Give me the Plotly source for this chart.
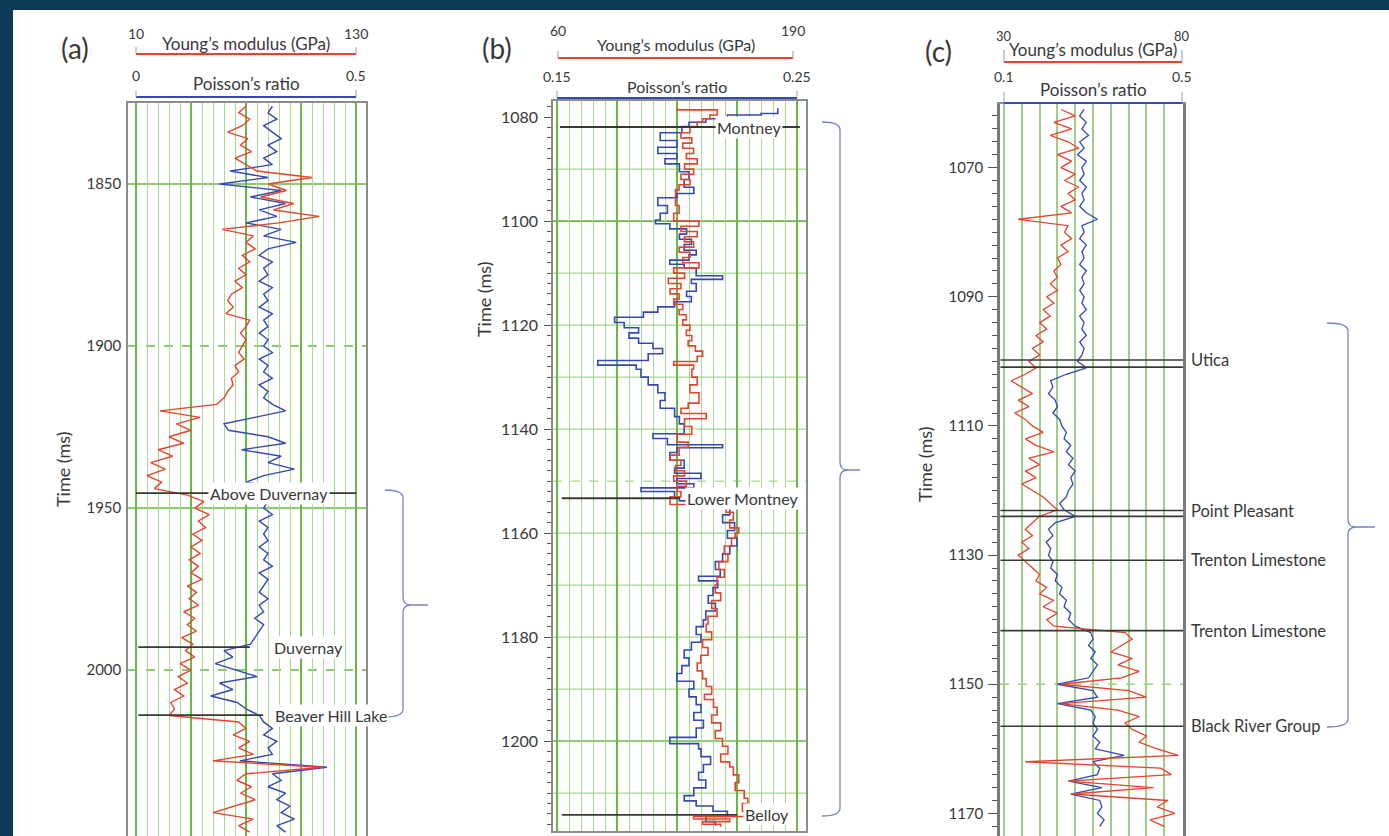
import plotly.graph_objects as go

W, H = 1389, 836

# ------------------------------------------------------------------ data
# Panel (a): log samples every 2 ms starting at 1826 ms
A_TIME_START, A_TIME_STEP = 1826, 2
A_YOUNG = [70, 66, 72, 68, 60, 71, 67, 73, 64, 70,
           76, 106, 82, 92, 78, 96, 85, 110, 88, 57,
           74, 70, 75, 68, 72, 66, 70, 64, 68, 62,
           60, 63, 59, 72, 70, 67, 70, 68, 66, 69,
           64, 66, 62, 63, 60, 58, 54, 23, 45, 32,
           40, 28, 36, 22, 30, 18, 26, 16, 24, 20,
           38, 47, 42, 50, 44, 48, 41, 46, 40, 45,
           39, 44, 40, 46, 38, 43, 39, 44, 36, 42,
           38, 43, 35, 41, 37, 42, 34, 40, 33, 38,
           31, 36, 29, 31, 28, 66, 70, 63, 72, 66,
           74, 52, 112, 70, 65, 73, 67, 75, 64, 52,
           74, 66, 72]
A_POISSON = [0.31, 0.30, 0.32, 0.29, 0.31, 0.33, 0.30, 0.32, 0.29, 0.31,
             0.214, 0.30, 0.19, 0.33, 0.26, 0.34, 0.28, 0.32, 0.25, 0.33,
             0.29, 0.364, 0.30, 0.28, 0.31, 0.29, 0.30, 0.28, 0.31, 0.29,
             0.30, 0.28, 0.31, 0.29, 0.30, 0.28, 0.30, 0.29, 0.31, 0.28,
             0.30, 0.29, 0.31, 0.28, 0.30, 0.29, 0.31, 0.34, 0.27, 0.20,
             0.21, 0.30, 0.34, 0.24, 0.33, 0.30, 0.36, 0.29, 0.25, 0.35,
             0.31, 0.30, 0.29, 0.31, 0.28, 0.30, 0.29, 0.30, 0.28, 0.30,
             0.29, 0.31, 0.28, 0.30, 0.29, 0.28, 0.30, 0.28, 0.29, 0.27,
             0.29, 0.28, 0.27, 0.26, 0.20, 0.22, 0.18, 0.23, 0.275, 0.19,
             0.22, 0.17, 0.23, 0.25, 0.28, 0.29, 0.31, 0.29, 0.32, 0.30,
             0.31, 0.236, 0.434, 0.31, 0.33, 0.30, 0.34, 0.32, 0.35, 0.33,
             0.36, 0.32, 0.34]

# Panel (b): blocky logs, (time ms, value) at every step
B_YOUNG = [(1078.3, 126), (1078.6, 148), (1079.6, 144), (1080.3, 140), (1081.0, 137), (1081.8, 133),
           (1083.0, 128), (1084.0, 134), (1085.0, 129), (1086.0, 135), (1087.0, 131), (1088.0, 137),
           (1089.0, 130), (1090.0, 135), (1091.0, 128), (1092.0, 133), (1093.0, 127), (1094.0, 125),
           (1095.5, 125), (1097.0, 127), (1098.5, 124), (1100.0, 138), (1101.0, 128), (1102.0, 137),
           (1103.0, 130), (1104.0, 135), (1105.0, 127), (1106.0, 133), (1107.0, 129), (1108.0, 138),
           (1109.0, 124), (1110.0, 130), (1111.0, 121), (1112.0, 128), (1113.0, 122), (1114.0, 127),
           (1115.0, 124), (1116.0, 129), (1117.0, 127), (1118.0, 131), (1119.0, 129), (1120.0, 133),
           (1121.0, 131), (1122.0, 134), (1123.0, 132), (1124.0, 136), (1125.0, 140), (1126.0, 137),
           (1127.0, 124), (1127.7, 135), (1128.5, 134), (1130.0, 137), (1131.5, 133), (1133.0, 138),
           (1135.0, 132), (1136.0, 128), (1137.0, 142), (1138.0, 130), (1139.5, 134), (1141.0, 126),
           (1142.5, 132), (1143.5, 127), (1145.0, 122), (1146.0, 128), (1147.0, 125), (1148.0, 130),
           (1149.0, 124), (1150.0, 131), (1151.0, 126), (1152.0, 128), (1153.0, 122), (1154.5, 153),
           (1156.0, 157), (1157.5, 155), (1159.0, 160), (1160.0, 158), (1161.0, 156), (1162.5, 152),
           (1164.0, 154), (1165.5, 149), (1167.0, 152), (1168.5, 148), (1170.0, 147), (1171.5, 150),
           (1173.0, 145), (1174.5, 148), (1176.0, 143), (1177.5, 142), (1179.0, 145), (1180.5, 140),
           (1182.0, 143), (1183.5, 139), (1185.0, 137), (1186.5, 140), (1188.0, 142), (1189.5, 145),
           (1191.0, 141), (1192.0, 146), (1193.5, 148), (1195.0, 145), (1196.5, 150), (1198.0, 147),
           (1199.5, 151), (1201.0, 154), (1202.5, 150), (1204.0, 155), (1205.0, 157), (1206.5, 160),
           (1208.0, 158), (1209.5, 163), (1211.0, 165), (1212.0, 162), (1213.5, 164), (1214.5, 135),
           (1215.0, 155), (1215.5, 140), (1216.0, 150), (1216.5, 150)]
B_POISSON = [(1078.3, 0.242), (1079.3, 0.235), (1079.6, 0.221), (1080.3, 0.212), (1081.0, 0.205),
             (1081.8, 0.202), (1083.0, 0.193), (1084.5, 0.200), (1085.8, 0.192), (1087.0, 0.200),
             (1088.0, 0.195), (1089.0, 0.201), (1090.5, 0.205), (1092.0, 0.203), (1093.5, 0.207),
             (1094.7, 0.200), (1095.5, 0.192), (1097.0, 0.196), (1098.5, 0.193), (1099.8, 0.191),
             (1100.5, 0.197), (1101.5, 0.204), (1102.5, 0.201), (1103.5, 0.206), (1104.5, 0.203),
             (1105.6, 0.208), (1106.5, 0.205), (1107.5, 0.197), (1108.3, 0.203), (1109.0, 0.208),
             (1110.5, 0.219), (1111.2, 0.206), (1112.0, 0.208), (1113.5, 0.204), (1114.5, 0.206),
             (1115.5, 0.199), (1116.5, 0.192), (1117.5, 0.186), (1118.5, 0.174), (1119.5, 0.178),
             (1120.5, 0.184), (1121.5, 0.180), (1122.5, 0.184), (1123.5, 0.190), (1124.5, 0.194),
             (1125.5, 0.188), (1126.8, 0.167), (1127.7, 0.183), (1128.5, 0.185), (1130.0, 0.188),
             (1131.5, 0.192), (1133.0, 0.195), (1134.5, 0.193), (1136.0, 0.199), (1137.6, 0.201),
             (1139.0, 0.203), (1140.9, 0.190), (1141.8, 0.196), (1143.0, 0.219), (1143.6, 0.200),
             (1144.5, 0.197), (1146.0, 0.203), (1147.5, 0.199), (1148.5, 0.210), (1149.5, 0.200),
             (1150.5, 0.207), (1151.3, 0.185), (1152.0, 0.199), (1153.0, 0.201), (1153.8, 0.218),
             (1155.0, 0.222), (1156.5, 0.219), (1158.0, 0.224), (1159.5, 0.221), (1161.0, 0.225),
             (1162.5, 0.222), (1164.0, 0.219), (1165.5, 0.216), (1167.0, 0.218), (1168.3, 0.209),
             (1169.2, 0.217), (1170.5, 0.215), (1172.0, 0.213), (1173.5, 0.216), (1175.0, 0.212),
             (1176.7, 0.211), (1178.0, 0.208), (1179.5, 0.210), (1181.0, 0.206), (1182.5, 0.203),
             (1184.0, 0.205), (1185.5, 0.202), (1187.0, 0.200), (1188.5, 0.207), (1190.0, 0.205),
             (1191.5, 0.208), (1193.0, 0.210), (1194.5, 0.207), (1196.0, 0.211), (1197.5, 0.208),
             (1199.3, 0.197), (1200.5, 0.209), (1201.5, 0.210), (1203.0, 0.214), (1204.5, 0.211),
             (1206.0, 0.209), (1207.5, 0.212), (1209.0, 0.207), (1210.5, 0.203), (1211.5, 0.208),
             (1212.5, 0.215), (1213.5, 0.221), (1214.5, 0.212), (1215.5, 0.216), (1216.3, 0.216)]

# Panel (c): log samples every 1 ms starting at 1061 ms
C_TIME_START, C_TIME_STEP = 1061, 1
C_YOUNG = [46, 50, 44, 49, 43, 48, 51, 45, 49, 46,
           50, 47, 51, 48, 50, 46, 49, 34, 48, 47,
           49, 46, 48, 45, 46, 44, 45, 43, 45, 42,
           44, 41, 43, 40, 42, 39, 41, 38, 40, 37,
           39, 36, 32, 35, 38, 34, 37, 33, 36, 38,
           41, 36, 39, 44, 37, 40, 36, 39, 35, 38,
           41, 43, 45, 40, 38, 36, 38, 35, 37, 34,
           36, 38, 40, 39, 42, 40, 44, 41, 45, 42,
           44, 64, 66, 63, 60, 66, 62, 68, 63, 46,
           65, 70, 46, 62, 68, 64, 66, 70, 68, 73,
           79, 36, 74, 77, 48, 72, 49, 76, 73, 78,
           71, 75]
C_POISSON = [0.28, 0.27, 0.285, 0.275, 0.29, 0.27, 0.28, 0.265, 0.285, 0.275,
             0.28, 0.27, 0.285, 0.275, 0.28, 0.27, 0.285, 0.31, 0.275, 0.28,
             0.27, 0.285, 0.275, 0.28, 0.27, 0.285, 0.275, 0.28, 0.27, 0.28,
             0.275, 0.285, 0.27, 0.28, 0.275, 0.285, 0.27, 0.28, 0.275, 0.265,
             0.285, 0.24, 0.205, 0.21, 0.20, 0.215, 0.22, 0.21, 0.225, 0.23,
             0.24, 0.235, 0.25, 0.24, 0.255, 0.245, 0.26, 0.25, 0.255, 0.245,
             0.24, 0.225, 0.235, 0.26, 0.215, 0.20, 0.21, 0.195, 0.205, 0.20,
             0.21, 0.205, 0.22, 0.215, 0.23, 0.225, 0.24, 0.235, 0.25, 0.245,
             0.26, 0.295, 0.30, 0.29, 0.305, 0.295, 0.31, 0.30, 0.29, 0.22,
             0.30, 0.31, 0.22, 0.295, 0.305, 0.30, 0.31, 0.30, 0.315, 0.305,
             0.37, 0.30, 0.315, 0.31, 0.245, 0.32, 0.25, 0.315, 0.32, 0.31,
             0.325, 0.315]

A_TICKS = [1850, 1900, 1950, 2000, 2050]
B_TICKS = [1080, 1100, 1120, 1140, 1160, 1180, 1200]
C_TICKS = [1070, 1090, 1110, 1130, 1150, 1170]

A_TOPS = ["Above Duvernay", "Duvernay", "Beaver Hill Lake"]
A_TOP_T = [1945.4, 1992.9, 2013.9]
B_TOPS = ["Montney", "Lower Montney", "Belloy"]
B_TOP_T = [1081.9, 1153.3, 1214.2]
C_TOPS = ["Utica", "Point Pleasant", "Trenton Limestone", "Trenton Limestone", "Black River Group"]
C_TOP_T = [1099.8, 1123.1, 1130.8, 1141.7, 1156.5]
C_TOP_T2 = [1100.9, 1124.0]

# ------------------------------------------------------------------ style
RED = "#e5432c"
BLUE = "#3447b2"
GREEN = "#68b846"
GREEN_L = "#a6d990"
GRAY = "#8c8c8c"
TXT = "#383838"
NAVY = "#0c3a56"
BRACE = "#7584c4"
FONT = "Lato"


def X(px):
    return px / W


def Y(py):
    return 1 - py / H


fig = go.Figure()

a_ty = [A_TIME_START + A_TIME_STEP * i for i in range(len(A_YOUNG))]
a_tp = [A_TIME_START + A_TIME_STEP * i for i in range(len(A_POISSON))]
c_ty = [C_TIME_START + C_TIME_STEP * i for i in range(len(C_YOUNG))]
c_tp = [C_TIME_START + C_TIME_STEP * i for i in range(len(C_POISSON))]

fig.add_trace(go.Scatter(x=A_YOUNG, y=a_ty, xaxis="x2", yaxis="y", mode="lines",
                         line=dict(color=RED, width=1.4), hoverinfo="skip"))
fig.add_trace(go.Scatter(x=A_POISSON, y=a_tp, xaxis="x", yaxis="y", mode="lines",
                         line=dict(color=BLUE, width=1.4), hoverinfo="skip"))
fig.add_trace(go.Scatter(x=[p[1] for p in B_POISSON], y=[p[0] for p in B_POISSON],
                         xaxis="x3", yaxis="y2", mode="lines",
                         line=dict(color=BLUE, width=1.6, shape="vh"), hoverinfo="skip"))
fig.add_trace(go.Scatter(x=[p[1] for p in B_YOUNG], y=[p[0] for p in B_YOUNG],
                         xaxis="x4", yaxis="y2", mode="lines",
                         line=dict(color=RED, width=1.6, shape="vh"), hoverinfo="skip"))
fig.add_trace(go.Scatter(x=C_YOUNG, y=c_ty, xaxis="x6", yaxis="y3", mode="lines",
                         line=dict(color=RED, width=1.3), hoverinfo="skip"))
fig.add_trace(go.Scatter(x=C_POISSON, y=c_tp, xaxis="x5", yaxis="y3", mode="lines",
                         line=dict(color=BLUE, width=1.3), hoverinfo="skip"))


def tf(size):
    return dict(family=FONT, size=size, color=TXT)


def base_x(domain, rng, dtick, tick0, minor_dtick=None, gcol=GREEN, gw=1.6):
    d = dict(domain=domain, range=rng, showticklabels=False, ticks="", zeroline=False,
             showgrid=True, gridcolor=gcol, gridwidth=gw, dtick=dtick, tick0=tick0,
             showline=True, linecolor=GRAY, linewidth=1.5, mirror=True)
    if minor_dtick:
        d["minor"] = dict(dtick=minor_dtick, tick0=tick0, showgrid=True,
                          gridcolor=GREEN_L, gridwidth=1.2)
    return d


def over_x(base, domain, rng, anchor):
    return dict(overlaying=base, anchor=anchor, domain=domain, range=rng, visible=False)


a_dom = [X(128), X(366)]
b_dom = [X(553), X(806)]
c_dom = [X(1000), X(1183)]

fig.update_layout(
    width=W, height=H, margin=dict(l=0, r=0, t=0, b=0),
    paper_bgcolor="white", plot_bgcolor="white", showlegend=False,
    font=dict(family=FONT, color=TXT),
    xaxis=dict(anchor="y", **base_x(a_dom, [-0.0182, 0.5227], 0.125, 0, 0.025)),
    xaxis2=over_x("x", a_dom, [5.636, 135.45], "y"),
    yaxis=dict(domain=[0, Y(103)], range=[2051.2, 1825.0], anchor="x",
               tickvals=A_TICKS, ticks="", showgrid=False, zeroline=False,
               showline=True, linecolor=GRAY, linewidth=1.5, mirror=True,
               tickfont=tf(15), ticklabelstandoff=2),
    xaxis3=dict(anchor="y2", **base_x(b_dom, [0.14833, 0.25375], 0.025, 0.15, 0.005)),
    xaxis4=over_x("x3", b_dom, [57.23, 197.19], "y2"),
    yaxis2=dict(domain=[Y(831), Y(101)], range=[1217.3, 1076.9], anchor="x3",
                tick0=B_TICKS[0], dtick=B_TICKS[1] - B_TICKS[0],
                ticks="outside", ticklen=7, tickcolor="#555", tickwidth=1.2,
                minor=dict(dtick=2, tick0=B_TICKS[0], ticks="outside", ticklen=4,
                           tickcolor="#555", showgrid=False),
                showgrid=False, zeroline=False, showline=True, linecolor=GRAY,
                linewidth=1.5, mirror=True, tickfont=tf(16), ticklabelstandoff=3),
    xaxis5=dict(anchor="y3", **base_x(c_dom, [0.091, 0.5022], 0.04, 0.1, None, "#9dcf86", 2)),
    xaxis6=over_x("x5", c_dom, [28.88, 80.28], "y3"),
    yaxis3=dict(domain=[0, Y(104)], range=[1173.5, 1060.15], anchor="x5",
                tick0=C_TICKS[0], dtick=C_TICKS[1] - C_TICKS[0],
                ticks="outside", ticklen=9, tickcolor="#555", tickwidth=1.2,
                minor=dict(dtick=2, tick0=C_TICKS[0], ticks="outside", ticklen=5,
                           tickcolor="#555", showgrid=False),
                showgrid=False, zeroline=False, showline=True, linecolor="#7a7a7a",
                linewidth=2.5, mirror=True, tickfont=tf(15), ticklabelstandoff=2),
)

shapes = []
annos = []


def note(xref, yref, x, y, text, size, xanchor="center", yanchor="middle", **kw):
    annos.append(dict(xref=xref, yref=yref, x=x, y=y, text=text, showarrow=False,
                      xanchor=xanchor, yanchor=yanchor, font=tf(size), **kw))


# frame
shapes.append(dict(type="rect", xref="paper", yref="paper", x0=0, x1=X(13), y0=0, y1=1,
                   fillcolor=NAVY, line=dict(width=0), layer="above"))
shapes.append(dict(type="rect", xref="paper", yref="paper", x0=0, x1=1, y0=Y(10), y1=1,
                   fillcolor=NAVY, line=dict(width=0), layer="above"))


def hgrid(yref, xref_dom, t, color, dash="solid", width=1.3):
    shapes.append(dict(type="line", xref=xref_dom, yref=yref, x0=0, x1=1, y0=t, y1=t,
                       line=dict(color=color, width=width, dash=dash), layer="below"))


for t in A_TICKS[:-1]:
    hgrid("y", "x domain", t, GREEN, "solid" if (t - 1850) % 100 == 0 else "dash", 1.5)
for t in range(1090, 1211, 10):
    if t == 1150:
        hgrid("y2", "x3 domain", t, GREEN_L, "dash", 1.3)
    else:
        hgrid("y2", "x3 domain", t, GREEN if t in (1100, 1200) else GREEN_L, "solid",
              1.6 if t in (1100, 1200) else 1.2)
hgrid("y3", "x5 domain", 1150, "#9dcf86", "dash", 1.6)


def scale_bar(xref, v0, v1, y_line, y_tick, y_lab, y_title, title, color, lab0, lab1,
              lsize=14, tsize=16):
    shapes.append(dict(type="line", xref=xref, yref="paper", x0=v0, x1=v1, y0=Y(y_line), y1=Y(y_line),
                       line=dict(color=color, width=2.2)))
    for v in (v0, v1):
        shapes.append(dict(type="line", xref=xref, yref="paper", x0=v, x1=v, y0=Y(y_tick), y1=Y(y_line),
                           line=dict(color="#8f9cc6", width=1)))
    note(xref, "paper", v0, Y(y_lab), lab0, lsize)
    note(xref, "paper", v1, Y(y_lab), lab1, lsize)
    note(xref, "paper", (v0 + v1) / 2, Y(y_title), title, tsize)


YM = "Young’s modulus (GPa)"
PR = "Poisson’s ratio"
scale_bar("x2", 10, 130, 54, 47, 33, 44, YM, RED, "10", "130", 14, 17)
scale_bar("x", 0, 0.5, 97, 90, 75, 84, PR, BLUE, "0", "0.5", 14, 17)
scale_bar("x4", 60, 190, 58, 51, 31, 45, YM, RED, "60", "190", 14, 16)
scale_bar("x3", 0.15, 0.25, 98, 91, 77, 86, PR, BLUE, "0.15", "0.25", 14, 16)
scale_bar("x6", 30, 80, 62, 50, 36, 49, YM, RED, "30", "80", 13, 17)
scale_bar("x5", 0.1, 0.5, 103, 92, 77, 89, PR, BLUE, "0.1", "0.5", 14, 17)

# formation tops
TOPC = "#383838"


def top_line(xref, yref, x0, x1, t, w=1.8):
    shapes.append(dict(type="line", xref=xref, yref=yref, x0=x0, x1=x1, y0=t, y1=t,
                       line=dict(color=TOPC, width=w), layer="above"))


# (a)
a_line_x = [(0.0, 0.5), (0.005, 0.259), (0.005, 0.289)]
a_lab_x = [0.302, 0.393, 0.443]
for name, t, (x0, x1), lx in zip(A_TOPS, A_TOP_T, a_line_x, a_lab_x):
    top_line("x", "y", x0, x1, t)
    note("x", "y", lx, t, name, 16, bgcolor="white", borderpad=1)
# (b)
b_line_x = [(0.1512, 0.2512), (0.152, 0.2013), (0.152, 0.225)]
b_lab_x = [0.230, 0.2271, 0.2375]
for name, t, (x0, x1), lx in zip(B_TOPS, B_TOP_T, b_line_x, b_lab_x):
    top_line("x3", "y2", x0, x1, t)
    note("x3", "y2", lx, t, name, 16, bgcolor="white", borderpad=1)
# (c)
for t in C_TOP_T + C_TOP_T2:
    top_line("x5", "y3", 0.092, 0.5022, t, 1.6)
for name, t in zip(C_TOPS, C_TOP_T):
    note("paper", "y3", X(1189), t, name, 16.5, xanchor="left")


# braces
def brace_path(xv, yt, yb, ym, xh, xt, r=8):
    def P(x, y):
        return f"{X(x):.5f},{Y(y):.5f}"
    return (f"M {P(xh, yt)} Q {P(xv, yt)} {P(xv, yt + r)} L {P(xv, ym - r)} "
            f"Q {P(xv, ym)} {P(xv + r, ym)} L {P(xt, ym)} "
            f"M {P(xv + r, ym)} Q {P(xv, ym)} {P(xv, ym + r)} L {P(xv, yb - r)} "
            f"Q {P(xv, yb)} {P(xh, yb)}")


for args in [(403, 490, 717, 605, 385, 428), (840, 122, 816, 470, 822, 860),
             (1348, 323, 727, 527, 1327, 1375)]:
    shapes.append(dict(type="path", xref="paper", yref="paper", path=brace_path(*args),
                       line=dict(color=BRACE, width=1.3)))

# panel letters and axis titles
for lbl, x, y in [("(a)", 75, 48), ("(b)", 497, 48), ("(c)", 938, 51)]:
    note("paper", "paper", X(x), Y(y), lbl, 28)
for x, y in [(63, 470), (484, 300), (925, 465)]:
    note("paper", "paper", X(x), Y(y), "Time (ms)", 18, textangle=-90)

fig.update_layout(shapes=shapes, annotations=annos)
fig.write_html("out.html")
